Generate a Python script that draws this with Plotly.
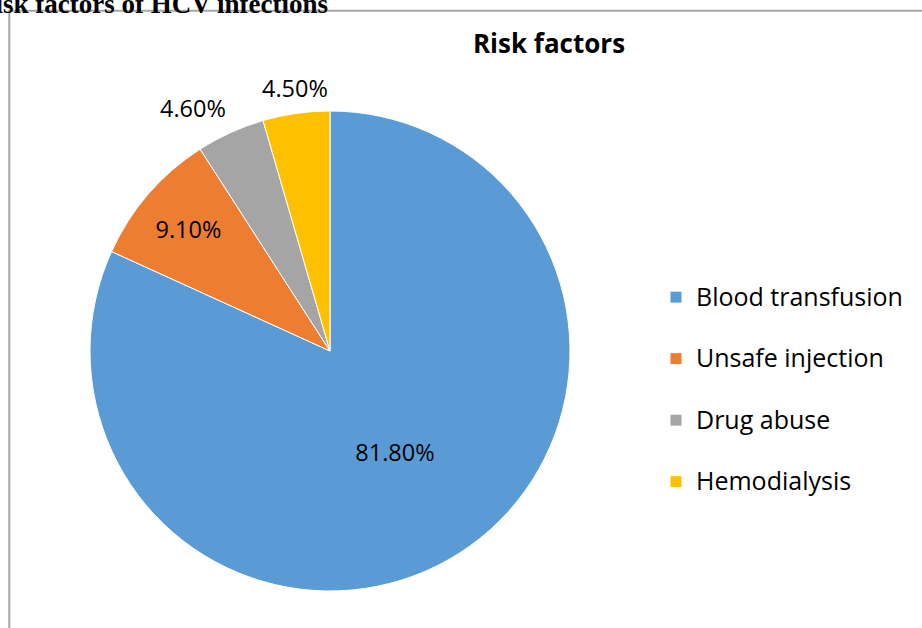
import math
import plotly.graph_objects as go

# ---- data ----
categories = ["Blood transfusion", "Unsafe injection", "Drug abuse", "Hemodialysis"]
percent_values = [81.8, 9.1, 4.6, 4.5]
slice_colors = ["#5B9BD5", "#ED7D31", "#A5A5A5", "#FFC000"]
label_outside = [False, False, True, True]
chart_title = "Risk factors"
doc_caption = "Risk factors of HCV infections"

W, H = 922, 628

def px_x(x):
    return x / W

def px_y(y):
    return 1 - y / H

# pie placement in pixels (left, right, top, bottom)
PIE_L, PIE_R, PIE_T, PIE_B = 90, 570, 111, 591
LABEL_SIZE = 23.5
LABEL_FONT = dict(family="Open Sans", size=LABEL_SIZE, color="black")

# legend entries get an empty second line so the rows are spaced like the original
legend_labels = ["<span style='font-size:25px'>" + c + "</span><br> " for c in categories]

fig = go.Figure()
fig.add_trace(go.Pie(
    labels=legend_labels,
    values=percent_values,
    sort=False,
    direction="clockwise",
    rotation=0,
    marker=dict(colors=slice_colors, line=dict(color="white", width=1)),
    texttemplate="%{value:.2f}%",
    textposition=["none" if o else "inside" for o in label_outside],
    insidetextorientation="horizontal",
    textfont=LABEL_FONT,
    hovertext=categories,
    hoverinfo="text+value",
    domain=dict(x=[px_x(PIE_L), px_x(PIE_R)], y=[px_y(PIE_B), px_y(PIE_T)]),
))

# outside data labels placed just beyond the rim, along each slice's bisector
cx, cy = (PIE_L + PIE_R) / 2, (PIE_T + PIE_B) / 2
radius = (PIE_R - PIE_L) / 2
total = sum(percent_values)
annotations = []
cum = 0.0
for v, outside in zip(percent_values, label_outside):
    mid = (cum + v / 2) / total * 2 * math.pi
    cum += v
    if not outside:
        continue
    s, c = math.sin(mid), math.cos(mid)
    ax = cx + 1.03 * radius * s
    ay = cy - 1.03 * radius * c
    xa = "right" if s < -0.3 else ("left" if s > 0.3 else "center")
    ya = "bottom" if c > 0.3 else ("top" if c < -0.3 else "middle")
    annotations.append(dict(
        text=f"{v:.2f}%", xref="paper", yref="paper",
        x=px_x(ax), y=px_y(ay), xanchor=xa, yanchor=ya,
        showarrow=False, font=LABEL_FONT,
    ))

annotations.append(dict(
    text="<b>" + doc_caption + "</b>",
    xref="paper", yref="paper",
    x=px_x(330), xanchor="right",
    y=px_y(20.5), yanchor="bottom",
    showarrow=False,
    font=dict(family="Liberation Serif", size=27, color="black"),
))

fig.update_layout(
    width=W, height=H,
    margin=dict(l=0, r=0, t=0, b=0),
    paper_bgcolor="white",
    plot_bgcolor="white",
    title=dict(
        text="<b>" + chart_title + "</b>",
        font=dict(family="Open Sans", size=26, color="black"),
        x=px_x(549), xanchor="center",
        y=px_y(44), yanchor="middle",
    ),
    legend=dict(
        x=px_x(656), xanchor="left",
        y=px_y(276), yanchor="top",
        valign="top",
        font=dict(family="Open Sans", size=22.5, color="black"),
        bgcolor="rgba(0,0,0,0)",
    ),
    showlegend=True,
    shapes=[dict(
        type="rect", xref="paper", yref="paper",
        x0=px_x(9.3), y0=px_y(10.8), x1=px_x(W + 20), y1=px_y(H + 20),
        line=dict(color="#A6A6A6", width=2),
        fillcolor="rgba(0,0,0,0)",
        layer="below",
    )],
    annotations=annotations,
)

fig.write_html("out.html")
